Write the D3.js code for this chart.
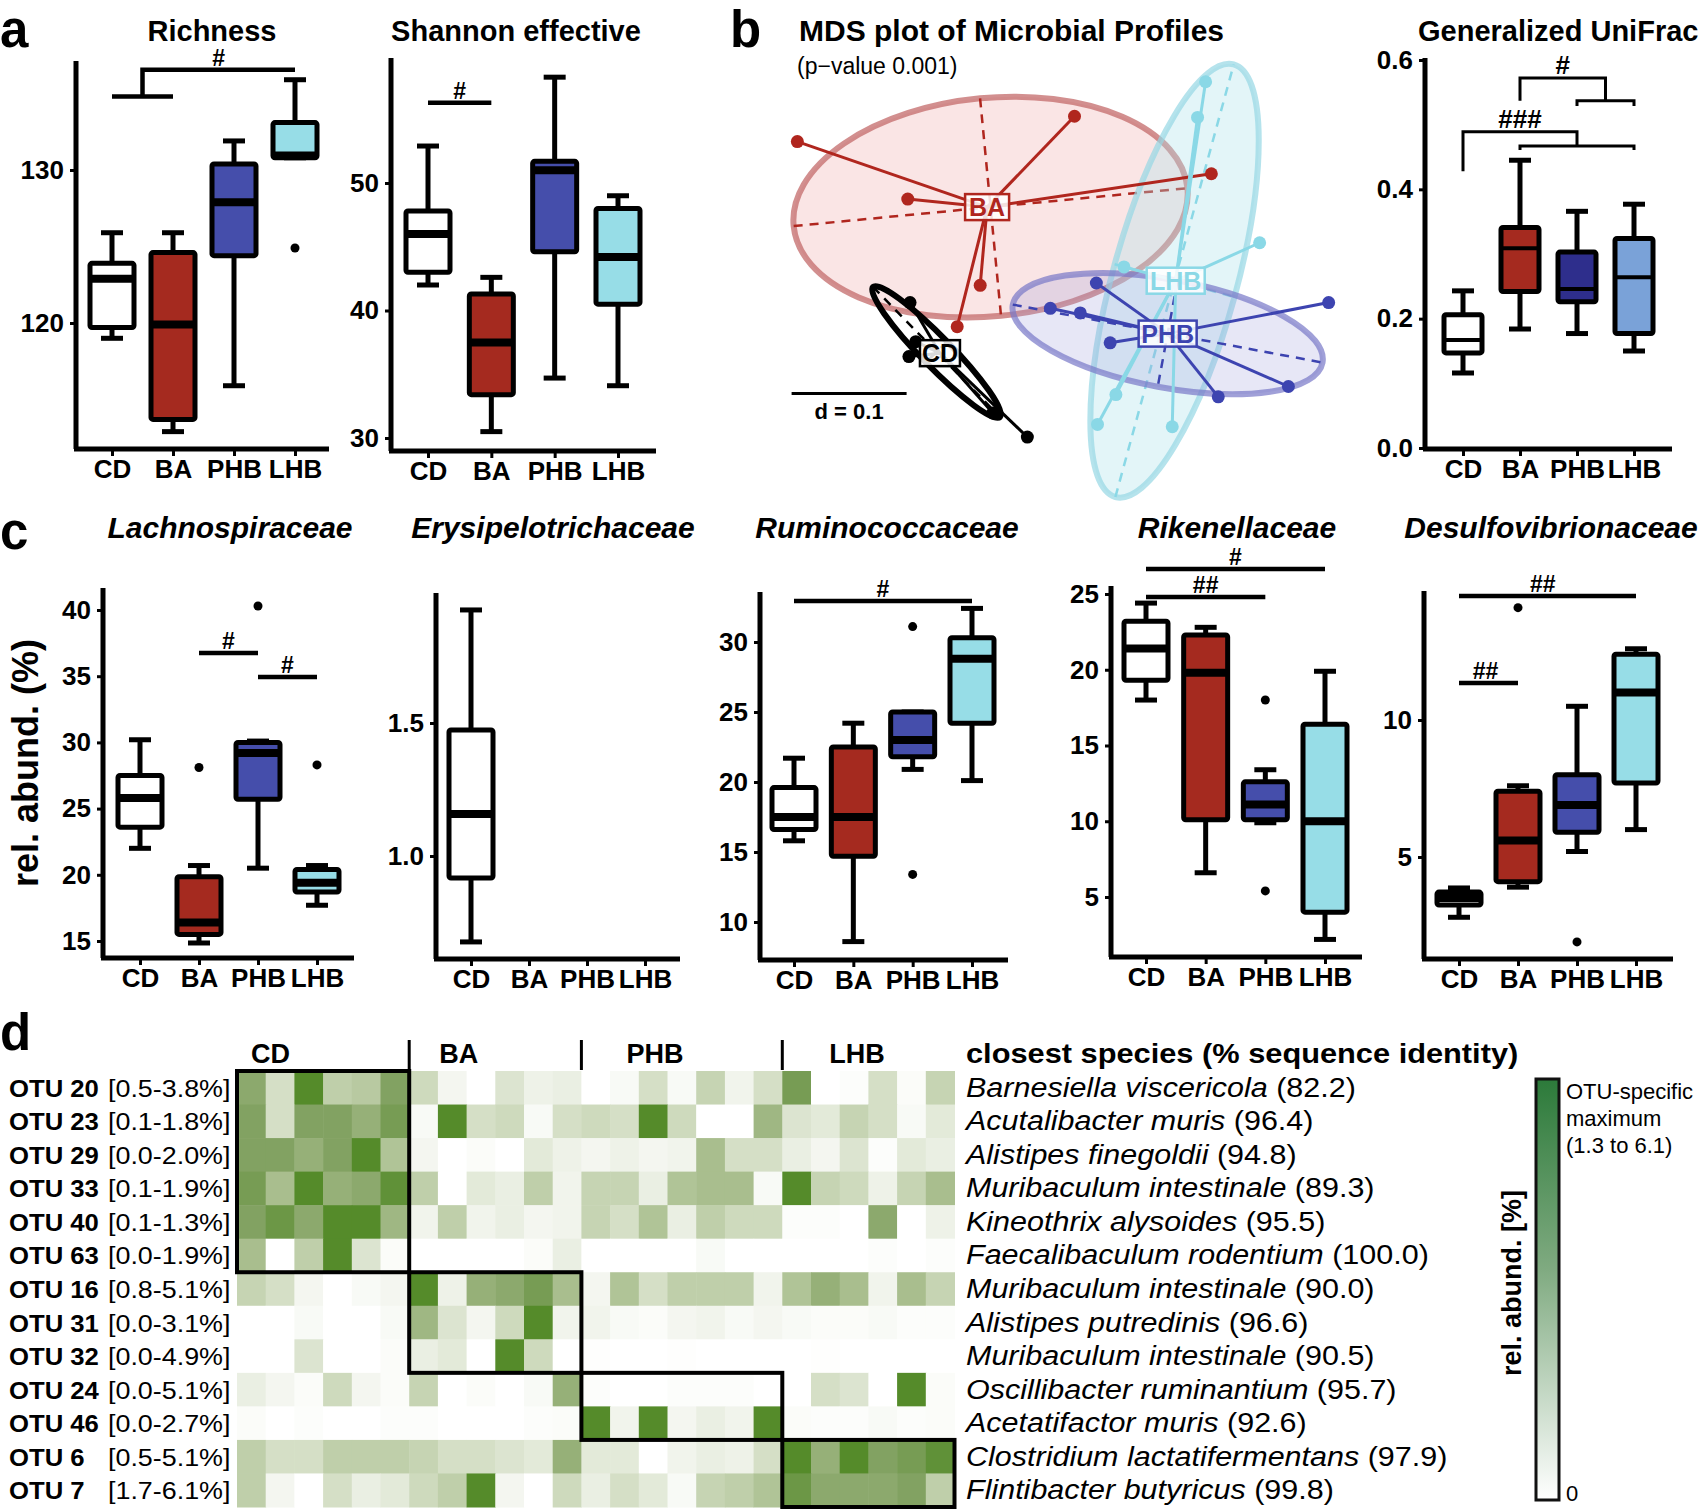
<!DOCTYPE html>
<html>
<head>
<meta charset="utf-8">
<script src="https://cdn.jsdelivr.net/npm/d3@7"></script>
<style>
body{margin:0;background:#fff}
text{font-family:"Liberation Sans",Arial,Helvetica,sans-serif}
</style>
</head>
<body>
<svg id="fig"></svg>
<script>
var W = 1707, H = 1511;

var groups = ["CD","BA","PHB","LHB"];
var boxFill = ["#ffffff","#a52a1f","#454eab","#97dde7"];
var uniFill = ["#ffffff","#a52a1f","#2e2e8c","#7aa2d8"];

// box stats: [whisker low, q1, median, q3, whisker high]
var richness = [[119.0,119.7,122.9,123.9,125.9],[112.9,113.7,119.9,124.6,125.9],[115.9,124.4,127.9,130.4,131.9],[130.8,130.8,130.95,133.1,135.9]];
var richnessOut = [[],[],[],[124.9]];
var shannon = [[42.0,43.0,46.0,47.8,52.9],[30.5,33.4,37.5,41.3,42.6],[34.7,44.6,51.0,51.7,58.3],[34.1,40.5,44.2,48.0,49.0]];
var unifrac = [[0.116,0.147,0.167,0.206,0.243],[0.184,0.242,0.309,0.341,0.445],[0.177,0.226,0.246,0.303,0.366],[0.150,0.177,0.264,0.324,0.377]];
var lachno = [[22.0,23.6,25.8,27.5,30.2],[14.85,15.5,16.4,19.85,20.7],[20.5,25.7,29.2,30.0,30.1],[17.7,18.7,19.4,20.4,20.7]];
var lachnoOut = [[],[28.1],[40.3],[28.3]];
var erysi = [[0.677,0.917,1.158,1.474,1.925],null,null,null];
var rumino = [[15.8,16.6,17.5,19.6,21.7],[8.6,14.7,17.5,22.5,24.2],[20.9,21.8,23.0,25.0,25.0],[20.1,24.2,28.8,30.3,32.4]];
var ruminoOut = [[],[],[31.1,13.4],[]];
var riken = [[18.0,19.3,21.4,23.2,24.4],[6.6,10.1,19.8,22.3,22.8],[9.9,10.1,11.1,12.6,13.4],[2.2,4.0,10.0,16.4,19.9]];
var rikenOut = [[],[],[18.0,5.4],[]];
var desulfo = [[2.8,3.25,3.5,3.72,3.87],[3.9,4.1,5.6,7.4,7.6],[5.2,5.9,6.9,8.0,10.5],[6.0,7.7,11.0,12.4,12.6]];
var desulfoOut = [[],[14.1],[1.9],[]];

// MDS coordinates (group centroids, samples, ellipses [cx, cy, a, b, angle])
var mdsNames = ["BA","CD","LHB","PHB"];
var mdsColors = ["#b0261e","#000000","#8ad8e6","#3d44b0"];
var mdsCenters = [[-0.046,0.046],[-0.087,-0.081],[0.118,-0.018],[0.111,-0.064]];
var baPts = [[-0.211,0.103],[0.030,0.125],[0.149,0.075],[-0.115,0.053],[-0.052,-0.022],[-0.072,-0.058]];
var cdPts = [[-0.113,-0.037],[-0.108,-0.071],[-0.114,-0.084],[-0.041,-0.133],[-0.011,-0.154]];
var lhbPts = [[0.144,0.155],[0.137,0.124],[0.191,0.015],[0.073,-0.006],[0.066,-0.117],[0.050,-0.143],[0.115,-0.145]];
var phbPts = [[0.049,-0.020],[0.009,-0.042],[0.035,-0.046],[0.061,-0.072],[0.251,-0.037],[0.216,-0.110],[0.155,-0.119]];
var mdsEllipses = [[-0.043,0.046,0.172,0.095,5.5],[-0.090,-0.080,0.079,0.013,-45.7],[0.117,-0.018,0.195,0.054,74.7],[0.111,-0.064,0.137,0.047,-10.6]];

// heatmap
var otuNames = ["OTU 20","OTU 23","OTU 29","OTU 33","OTU 40","OTU 63","OTU 16","OTU 31","OTU 32","OTU 24","OTU 46","OTU 6","OTU 7"];
var otuRanges = ["[0.5-3.8%]","[0.1-1.8%]","[0.0-2.0%]","[0.1-1.9%]","[0.1-1.3%]","[0.0-1.9%]","[0.8-5.1%]","[0.0-3.1%]","[0.0-4.9%]","[0.0-5.1%]","[0.0-2.7%]","[0.5-5.1%]","[1.7-6.1%]"];
var species = ["Barnesiella viscericola","Acutalibacter muris","Alistipes finegoldii","Muribaculum intestinale","Kineothrix alysoides","Faecalibaculum rodentium","Muribaculum intestinale","Alistipes putredinis","Muribaculum intestinale","Oscillibacter ruminantium","Acetatifactor muris","Clostridium lactatifermentans","Flintibacter butyricus"];
var identity = ["(82.2)","(96.4)","(94.8)","(89.3)","(95.5)","(100.0)","(90.0)","(96.6)","(90.5)","(95.7)","(92.6)","(97.9)","(99.8)"];
var groupCols = [6,6,7,6];
var groupRows = [6,3,2,2];
var heat = [
 [0.75,0.3,1.0,0.45,0.5,0.8, 0.35,0.08,0,0.25,0.12,0.15, 0,0.05,0.3,0.05,0.4,0.1,0.3, 0.85,0,0.02,0.3,0.03,0.4],
 [0.8,0.3,0.8,0.8,0.7,0.85, 0.05,1.0,0.3,0.35,0.05,0.3, 0.35,0.3,1.0,0.35,0,0,0.65, 0.25,0.2,0.4,0.3,0.05,0.2],
 [0.8,0.8,0.7,0.8,1.0,0.55, 0.08,0,0.03,0,0.2,0.12, 0.08,0.12,0.08,0.1,0.6,0.3,0.3, 0.15,0.08,0.25,0.02,0.2,0.15],
 [0.85,0.6,1.0,0.7,0.75,0.95, 0.45,0,0.2,0.15,0.45,0.1, 0.4,0.4,0.15,0.55,0.6,0.6,0.05, 1.0,0.4,0.35,0.12,0.4,0.6],
 [0.8,0.9,0.75,1.0,1.0,0.65, 0.1,0.45,0.1,0.15,0.08,0.1, 0.4,0.3,0.55,0.15,0.45,0.35,0.35, 0.02,0.02,0,0.75,0,0.12],
 [0.6,0,0.45,1.0,0.25,0.03, 0,0,0,0,0.03,0.15, 0,0,0,0,0.05,0,0, 0,0,0,0.02,0,0.02],
 [0.4,0.3,0.08,0,0.05,0.08, 1.0,0.12,0.7,0.75,0.85,0.6, 0.08,0.55,0.3,0.45,0.45,0.45,0.1, 0.55,0.7,0.6,0.1,0.6,0.4],
 [0,0,0.05,0,0,0.05, 0.65,0.25,0.08,0.35,1.0,0.1, 0.1,0.05,0.03,0.08,0.1,0.05,0.08, 0.05,0.03,0.03,0.05,0.02,0.02],
 [0,0,0.25,0,0,0.03, 0.15,0.2,0,1.0,0.35,0, 0.01,0,0,0.01,0,0,0, 0,0.01,0,0,0,0],
 [0.15,0.08,0.03,0.35,0.08,0.03, 0.4,0,0.03,0,0.05,0.7, 0.02,0,0,0.02,0.02,0.02,0, 0,0.3,0.25,0,1.0,0.03],
 [0.03,0,0.02,0,0,0.02, 0.02,0,0,0,0.02,0.03, 1.0,0.1,1.0,0.08,0.15,0.1,1.0, 0.03,0.02,0.02,0.05,0.02,0.03],
 [0.45,0.3,0.3,0.45,0.45,0.45, 0.4,0.3,0.3,0.25,0.2,0.7, 0.2,0.2,0,0.1,0.15,0.12,0.3, 1.0,0.7,1.0,0.8,0.85,0.95],
 [0.45,0.08,0,0.3,0.15,0.2, 0.35,0.45,1.0,0.08,0,0.35, 0.15,0.3,0.2,0.05,0.4,0.45,0.55, 0.9,0.75,0.75,0.75,0.8,0.45]
];

var svg = d3.select("#fig").attr("width",W).attr("height",H);

// panel letters
var letters = [["a",0,47],["b",730,47],["c",0,549],["d",0,1050]];
svg.selectAll("text.letter").data(letters).enter().append("text")
    .attr("class","letter")
    .attr("x",function(d){return d[1]})
    .attr("y",function(d){return d[2]})
    .attr("font-size",51).attr("font-weight","bold")
    .text(function(d){return d[0]});

var drawBoxPanel = function(p)
{
    var g = svg.append("g");
    var x = d3.scalePoint().domain(groups).range(p.xr);
    var y = d3.scaleLinear().domain(p.yd).range(p.yr);
    var xi = function(i){ return p.xr[0] + i*x.step(); };
    var fills = p.fills || boxFill;

    // title
    g.append("text")
        .attr("x",p.titleX).attr("y",p.titleY)
        .attr("text-anchor",p.anchor || "middle")
        .attr("font-size",p.titleSize || 29)
        .attr("font-weight","bold")
        .attr("font-style",p.italic ? "italic" : "normal")
        .text(p.title);

    // axes frame
    g.append("line").attr("x1",p.ax).attr("x2",p.ax).attr("y1",p.top).attr("y2",p.bottom)
        .attr("stroke","#000").attr("stroke-width",5);
    g.append("line").attr("x1",p.ax-2).attr("x2",p.right).attr("y1",p.bottom).attr("y2",p.bottom)
        .attr("stroke","#000").attr("stroke-width",5);

    var yAxis = d3.axisLeft(y).tickValues(p.ticks).tickSize(6).tickPadding(6)
        .tickFormat(p.fmt || d3.format("d"));
    var ya = g.append("g").attr("transform","translate("+p.ax+",0)").call(yAxis);
    ya.select(".domain").remove();
    ya.selectAll("line").attr("stroke-width",3);
    ya.selectAll("text").attr("font-size",26).attr("font-weight","bold")
        .attr("font-family","Liberation Sans, Arial, sans-serif").attr("fill","#000");

    var xAxis = d3.axisBottom(x).tickSize(7).tickPadding(4);
    var xa = g.append("g").attr("transform","translate(0,"+p.bottom+")").call(xAxis);
    xa.select(".domain").remove();
    xa.selectAll("line").attr("stroke-width",3);
    xa.selectAll("text").attr("font-size",26).attr("font-weight","bold")
        .attr("font-family","Liberation Sans, Arial, sans-serif").attr("fill","#000");

    var bw = p.boxW || 44, cw = 22, sw = 5;
    p.stats.forEach(function(s,i)
    {
        if(!s) return;
        var cx = x(groups[i]);
        var b = g.append("g");
        b.append("line").attr("x1",cx).attr("x2",cx).attr("y1",y(s[0])).attr("y2",y(s[1]))
            .attr("stroke","#000").attr("stroke-width",sw);
        b.append("line").attr("x1",cx).attr("x2",cx).attr("y1",y(s[3])).attr("y2",y(s[4]))
            .attr("stroke","#000").attr("stroke-width",sw);
        [s[0],s[4]].forEach(function(v)
        {
            b.append("line").attr("x1",cx-cw/2).attr("x2",cx+cw/2).attr("y1",y(v)).attr("y2",y(v))
                .attr("stroke","#000").attr("stroke-width",sw);
        });
        b.append("rect")
            .attr("x",cx-bw/2).attr("width",bw)
            .attr("y",y(s[3])).attr("height",Math.max(1,y(s[1])-y(s[3])))
            .attr("rx",2)
            .attr("fill",fills[i]).attr("stroke","#000").attr("stroke-width",sw);
        b.append("line").attr("x1",cx-bw/2).attr("x2",cx+bw/2).attr("y1",y(s[2])).attr("y2",y(s[2]))
            .attr("stroke","#000").attr("stroke-width",p.medW || 8);
        if(p.out && p.out[i])
        {
            p.out[i].forEach(function(v)
            {
                b.append("circle").attr("cx",cx).attr("cy",y(v)).attr("r",4.5).attr("fill","#000");
            });
        }
    });

    // significance brackets
    (p.brackets || []).forEach(function(br)
    {
        var line = d3.line().x(function(d){return xi(d[0])}).y(function(d){return y(d[1])});
        g.append("path").attr("d",line(br)).attr("fill","none")
            .attr("stroke","#000").attr("stroke-width",p.brW || 4.5);
    });
    (p.marks || []).forEach(function(m)
    {
        g.append("text").attr("x",xi(m[0])).attr("y",y(m[1])-4)
            .attr("text-anchor","middle").attr("font-size",m[3] || 23).attr("font-weight","bold")
            .text(m[2]);
    });
}

// ---- panel a ----
drawBoxPanel({title:"Richness",titleX:212,titleY:41,ax:76,right:329,top:61,bottom:449,
    xr:[112,295],yd:[120,130],yr:[323,170],ticks:[120,130],stats:richness,out:richnessOut,
    brackets:[[[0,134.8],[1,134.8]],[[0.5,134.8],[0.5,136.55],[3,136.55]]],
    marks:[[1.75,136.55,"#"]]});
drawBoxPanel({title:"Shannon effective",titleX:516,titleY:41,ax:391,right:656,top:58,bottom:451,
    xr:[428,618],yd:[30,50],yr:[438,183],ticks:[30,40,50],stats:shannon,
    brackets:[[[0,56.3],[1,56.3]]],marks:[[0.5,56.3,"#"]]});

// ---- panel b: generalized unifrac ----
drawBoxPanel({title:"Generalized UniFrac",titleX:1418,titleY:41,anchor:"start",ax:1425,right:1672,top:58,bottom:449,
    xr:[1463,1634],yd:[0,0.6],yr:[448,60],ticks:[0,0.2,0.4,0.6],fmt:d3.format(".1f"),
    stats:unifrac,fills:uniFill,boxW:38,medW:4,brW:3,
    brackets:[[[0,0.428],[0,0.489],[2,0.489],[2,0.467]],[[1,0.461],[1,0.467],[3,0.467],[3,0.461]],
              [[1,0.537],[1,0.572],[2.5,0.572],[2.5,0.537]],[[2,0.529],[2,0.537],[3,0.537],[3,0.529]]],
    marks:[[1.0,0.489,"###",26],[1.75,0.572,"#",26]]});

// ---- panel c ----
drawBoxPanel({title:"Lachnospiraceae",titleX:230,titleY:538,italic:true,titleSize:30,ax:103,right:354,top:588,bottom:958,
    xr:[140,317],yd:[15,40],yr:[941,610],ticks:[15,20,25,30,35,40],stats:lachno,out:lachnoOut,
    brackets:[[[1,36.75],[2,36.75]],[[2,34.94],[3,34.94]]],
    marks:[[1.5,36.75,"#"],[2.5,34.94,"#"]]});
drawBoxPanel({title:"Erysipelotrichaceae",titleX:553,titleY:538,italic:true,titleSize:30,ax:436,right:680,top:593,bottom:959,
    xr:[471,645],yd:[1.0,1.5],yr:[856,723],ticks:[1.0,1.5],fmt:d3.format(".1f"),stats:erysi});
drawBoxPanel({title:"Ruminococcaceae",titleX:887,titleY:538,italic:true,titleSize:30,ax:760,right:1008,top:592,bottom:960,
    xr:[794,972],yd:[10,30],yr:[922,642],ticks:[10,15,20,25,30],stats:rumino,out:ruminoOut,
    brackets:[[[0,32.93],[3,32.93]]],marks:[[1.5,32.93,"#"]]});
drawBoxPanel({title:"Rikenellaceae",titleX:1237,titleY:538,italic:true,titleSize:30,ax:1111,right:1362,top:586,bottom:957,
    xr:[1146,1325],yd:[5,25],yr:[897,594],ticks:[5,10,15,20,25],stats:riken,out:rikenOut,
    brackets:[[[0,26.65],[3,26.65]],[[0,24.8],[2,24.8]]],
    marks:[[1.5,26.65,"#"],[1,24.8,"##"]]});
drawBoxPanel({title:"Desulfovibrionaceae",titleX:1551,titleY:538,italic:true,titleSize:30,ax:1424,right:1673,top:591,bottom:959,
    xr:[1459,1636],yd:[5,10],yr:[857,720],ticks:[5,10],stats:desulfo,out:desulfoOut,
    brackets:[[[0,14.53],[3,14.53]],[[0,11.35],[1,11.35]]],
    marks:[[1.42,14.53,"##"],[0.45,11.35,"##"]]});

svg.append("text")
    .attr("transform","translate(38,763) rotate(-90)")
    .attr("text-anchor","middle").attr("font-size",36).attr("font-weight","bold")
    .text("rel. abund. (%)");

// ---- panel b: MDS ----
var mx = d3.scaleLinear().domain([0,0.1]).range([1040,1155]);
var my = d3.scaleLinear().domain([0,0.1]).range([260,145]);
var pxPerUnit = mx(1) - mx(0);
var mdsPts = [baPts,cdPts,lhbPts,phbPts];
var ellFill = ["rgba(240,170,170,0.30)","none","rgba(175,225,235,0.35)","rgba(160,160,220,0.25)"];
var ellStroke = ["rgba(195,105,105,0.75)","#000","rgba(150,215,228,0.7)","rgba(120,120,200,0.7)"];

svg.append("text").attr("x",799).attr("y",41).attr("font-size",30).attr("font-weight","bold")
    .text("MDS plot of Microbial Profiles");
svg.append("text").attr("x",797).attr("y",74).attr("font-size",23)
    .text("(p\u2212value 0.001)");

var mg = svg.append("g");
mdsEllipses.forEach(function(e,i)
{
    var eg = mg.append("g")
        .attr("transform","translate("+mx(e[0])+","+my(e[1])+") rotate("+(-e[4])+")");
    eg.append("ellipse").attr("rx",e[2]*pxPerUnit).attr("ry",e[3]*pxPerUnit)
        .attr("fill",ellFill[i]).attr("stroke",ellStroke[i]).attr("stroke-width",i==1?6:6);
    eg.append("line").attr("x1",-e[2]*pxPerUnit).attr("x2",e[2]*pxPerUnit)
        .attr("stroke",mdsColors[i]).attr("stroke-width",2.5).attr("stroke-dasharray","9,7");
    eg.append("line").attr("y1",-e[3]*pxPerUnit).attr("y2",e[3]*pxPerUnit)
        .attr("stroke",mdsColors[i]).attr("stroke-width",2.5).attr("stroke-dasharray","9,7");
});
mdsPts.forEach(function(pts,i)
{
    var c = mdsCenters[i];
    mg.selectAll(null).data(pts).enter().append("line")
        .attr("x1",mx(c[0])).attr("y1",my(c[1]))
        .attr("x2",function(d){return mx(d[0])}).attr("y2",function(d){return my(d[1])})
        .attr("stroke",mdsColors[i]).attr("stroke-width",3);
    mg.selectAll(null).data(pts).enter().append("circle")
        .attr("cx",function(d){return mx(d[0])}).attr("cy",function(d){return my(d[1])})
        .attr("r",6.5).attr("fill",mdsColors[i]);
});
var labW = [44,40,58,58];
mdsNames.forEach(function(n,i)
{
    var c = mdsCenters[i];
    mg.append("rect").attr("x",mx(c[0])-labW[i]/2).attr("y",my(c[1])-13)
        .attr("width",labW[i]).attr("height",26)
        .attr("fill","rgba(255,255,255,0.85)").attr("stroke",mdsColors[i]).attr("stroke-width",2.5);
    mg.append("text").attr("x",mx(c[0])).attr("y",my(c[1])+9)
        .attr("text-anchor","middle").attr("font-size",25).attr("font-weight","bold")
        .attr("fill",mdsColors[i]).text(n);
});
// scale bar d = 0.1
var sbx = -0.216, sby = -0.116;
svg.append("line").attr("x1",mx(sbx)).attr("x2",mx(sbx+0.1)).attr("y1",my(sby)).attr("y2",my(sby))
    .attr("stroke","#000").attr("stroke-width",3);
svg.append("text").attr("x",(mx(sbx)+mx(sbx+0.1))/2).attr("y",my(sby)+26)
    .attr("text-anchor","middle").attr("font-size",22).attr("font-weight","bold").text("d = 0.1");

// ---- panel d: heatmap ----
var nCols = d3.sum(groupCols);
var hx = d3.scaleBand().domain(d3.range(nCols)).range([237,954.5]);
var hy = d3.scaleBand().domain(d3.range(otuNames.length)).range([1071,1507]);
var hcol = d3.scaleLinear().domain([0,0.3,0.6,0.8,1]).range(["#ffffff","#d5dfc6","#a9be8e","#82a262","#558b2a"]);

var hg = svg.append("g");
heat.forEach(function(row,r)
{
    hg.selectAll(null).data(row).enter().append("rect")
        .attr("x",function(d,c){return hx(c)}).attr("y",hy(r))
        .attr("width",hx.bandwidth()+0.5).attr("height",hy.bandwidth()+0.5)
        .attr("fill",function(d){return hcol(d)});
});
var c0 = 0, r0 = 0;
var headDx = [14,30,45,47];
groupCols.forEach(function(nc,i)
{
    var nr = groupRows[i];
    hg.append("rect").attr("x",hx(c0)).attr("y",hy(r0))
        .attr("width",nc*hx.step()).attr("height",nr*hy.step())
        .attr("fill","none").attr("stroke","#000").attr("stroke-width",4);
    svg.append("text").attr("x",hx(c0)+headDx[i]).attr("y",1063)
        .attr("font-size",27).attr("font-weight","bold").text(groups[i]);
    if(i>0)
    {
        svg.append("line").attr("x1",hx(c0)).attr("x2",hx(c0)).attr("y1",1040).attr("y2",1070)
            .attr("stroke","#000").attr("stroke-width",3);
    }
    c0 += nc; r0 += nr;
});

otuNames.forEach(function(n,r)
{
    var yy = hy(r) + hy.bandwidth()/2 + 9;
    svg.append("text").attr("transform","translate(9,"+yy+") scale(1.07,1)")
        .attr("font-size",24).attr("font-weight","bold").text(n);
    svg.append("text").attr("transform","translate(108,"+yy+") scale(1.12,1)")
        .attr("font-size",24).text(otuRanges[r]);
    var t = svg.append("text").attr("transform","translate(966,"+yy+") scale(1.13,1)")
        .attr("font-size",27);
    t.append("tspan").attr("font-style","italic").text(species[r]);
    t.append("tspan").text(" "+identity[r]);
});
svg.append("text").attr("transform","translate(966,1063) scale(1.14,1)")
    .attr("font-size",27).attr("font-weight","bold")
    .text("closest species (% sequence identity)");

// colour bar
var defs = svg.append("defs");
var grad = defs.append("linearGradient").attr("id","cbar").attr("x1",0).attr("x2",0).attr("y1",0).attr("y2",1);
grad.append("stop").attr("offset","0%").attr("stop-color","#2c7a3a");
grad.append("stop").attr("offset","45%").attr("stop-color","#7faa80");
grad.append("stop").attr("offset","100%").attr("stop-color","#ffffff");
svg.append("rect").attr("x",1536).attr("y",1079).attr("width",23).attr("height",421)
    .attr("fill","url(#cbar)").attr("stroke","#111").attr("stroke-width",3);
var cbText = ["OTU-specific","maximum","(1.3 to 6.1)"];
svg.selectAll(null).data(cbText).enter().append("text")
    .attr("x",1566).attr("y",function(d,i){return 1099+i*27})
    .attr("font-size",22).text(function(d){return d});
svg.append("text").attr("x",1566).attr("y",1501).attr("font-size",22).text("0");
svg.append("text").attr("transform","translate(1521,1283) rotate(-90)")
    .attr("text-anchor","middle").attr("font-size",27).attr("font-weight","bold")
    .text("rel. abund. [%]");
</script>
</body>
</html>
